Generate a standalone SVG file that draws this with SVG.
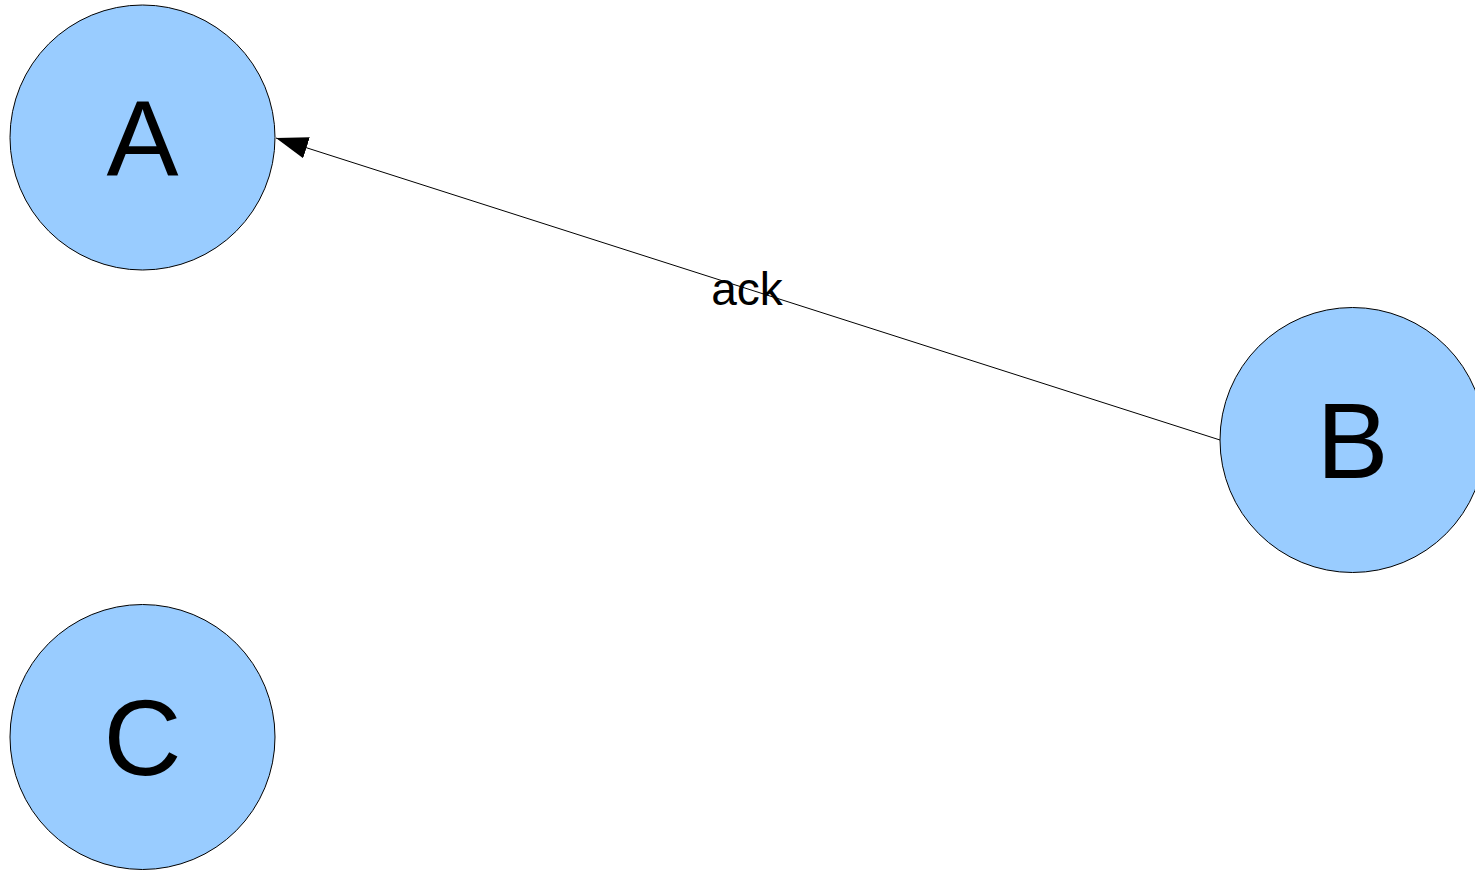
<svg xmlns="http://www.w3.org/2000/svg" width="1475" height="870" viewBox="0 0 1475 870">
  <style>
    .node circle { fill: #99ccff; stroke: #000000; stroke-width: 1; }
    .node text { font-family: "Liberation Sans", Arial, sans-serif; font-size: 108px; fill: #000000; text-anchor: middle; }
    .edge line { stroke: #000000; stroke-width: 1; }
    .edge text { font-family: "Liberation Sans", Arial, sans-serif; font-size: 46px; fill: #000000; text-anchor: middle; }
  </style>
  <defs>
    <marker id="arrow" markerUnits="userSpaceOnUse" markerWidth="32" markerHeight="22" refX="32" refY="11" orient="auto">
      <path d="M0,0 L32,11 L0,22 Z" fill="#000000"/>
    </marker>
  </defs>
  <rect width="1475" height="870" fill="#ffffff"/>

  <g id="connectors">
    <g class="edge" id="edge-B-A">
      <line x1="1220" y1="440" x2="276" y2="138" marker-end="url(#arrow)"/>
      <text x="747" y="305">ack</text>
    </g>
  </g>

  <g class="node" id="node-A">
    <circle cx="142.5" cy="137.5" r="132.5"/>
    <text x="142.5" y="176">A</text>
  </g>
  <g class="node" id="node-B">
    <circle cx="1352.5" cy="440" r="132.5"/>
    <text x="1352.5" y="478">B</text>
  </g>
  <g class="node" id="node-C">
    <circle cx="142.5" cy="737" r="132.5"/>
    <text x="142.5" y="775">C</text>
  </g>
</svg>
